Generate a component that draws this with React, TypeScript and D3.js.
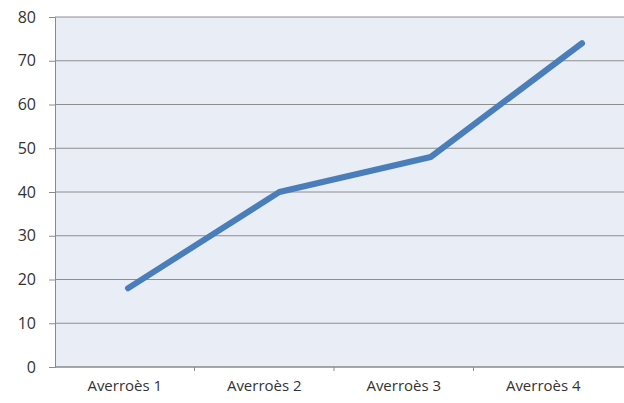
import React, { useRef, useEffect } from "react";
import * as d3 from "d3";

const categories = ["Averroès 1", "Averroès 2", "Averroès 3", "Averroès 4"];
const values = [18, 40, 48, 74];
const yTicks = [0, 10, 20, 30, 40, 50, 60, 70, 80];

const layout = {
  width: 624,
  height: 403,
  plotLeft: 55,
  plotRight: 624,
  plotTop: 17,
  plotBottom: 367,
  bandRight: 613,
  lineLeft: 128,
  lineRight: 582,
};

export default function App() {
  const ref = useRef<SVGSVGElement>(null);

  useEffect(() => {
    const svg = d3.select(ref.current);
    svg.selectAll("*").remove();

    const y = d3.scaleLinear().domain([0, 80]).range([layout.plotBottom, layout.plotTop]);
    const xBand = d3.scaleBand().domain(categories).range([layout.plotLeft, layout.bandRight]);
    // the drawn line sits a little wider than the category labels in the reference
    const xLine = d3.scalePoint().domain(categories).range([layout.lineLeft, layout.lineRight]);

    svg.append("rect")
      .attr("x", layout.plotLeft)
      .attr("y", layout.plotTop)
      .attr("width", layout.plotRight - layout.plotLeft)
      .attr("height", layout.plotBottom - layout.plotTop)
      .attr("fill", "#e9edf5");

    // gridlines
    svg.append("g")
      .selectAll("line")
      .data(yTicks.filter(t => t > 0))
      .join("line")
      .attr("x1", layout.plotLeft)
      .attr("x2", layout.plotRight)
      .attr("y1", d => y(d))
      .attr("y2", d => y(d))
      .attr("stroke", "#8e8e8e")
      .attr("stroke-width", 1);

    const yAxis = svg.append("g")
      .attr("transform", `translate(${layout.plotLeft},0)`)
      .call(d3.axisLeft(y).tickValues(yTicks).tickSize(6).tickPadding(13));
    yAxis.select(".domain").attr("stroke", "#8a8a8a");
    yAxis.selectAll(".tick line").attr("stroke", "#8a8a8a");
    yAxis.selectAll("text")
      .attr("font-family", "'Open Sans', sans-serif")
      .attr("font-size", 16)
      .attr("fill", "#333");

    const xAxis = svg.append("g")
      .attr("transform", `translate(0,${layout.plotBottom})`)
      .call(d3.axisBottom(xBand).tickSize(0).tickPadding(13));
    xAxis.select(".domain").remove();
    xAxis.selectAll("text")
      .attr("font-family", "'Open Sans', sans-serif")
      .attr("font-size", 15)
      .attr("fill", "#333");

    svg.append("line")
      .attr("x1", layout.plotLeft)
      .attr("x2", layout.plotRight)
      .attr("y1", layout.plotBottom)
      .attr("y2", layout.plotBottom)
      .attr("stroke", "#8a8a8a")
      .attr("stroke-width", 1.5);

    svg.append("g")
      .selectAll("line")
      .data(categories.slice(1))
      .join("line")
      .attr("x1", d => xBand(d)!)
      .attr("x2", d => xBand(d)!)
      .attr("y1", layout.plotBottom)
      .attr("y2", layout.plotBottom + 4)
      .attr("stroke", "#8a8a8a");

    const line = d3.line<number>()
      .x((d, i) => xLine(categories[i])!)
      .y(d => y(d));

    svg.append("path")
      .datum(values)
      .attr("d", line)
      .attr("fill", "none")
      .attr("stroke", "#4a7ebb")
      .attr("stroke-width", 6)
      .attr("stroke-linejoin", "round")
      .attr("stroke-linecap", "round");
  }, []);

  return (
    <svg
      ref={ref}
      width={layout.width}
      height={layout.height}
      style={{ position: "absolute", left: 0, top: 0, background: "#fff" }}
    />
  );
}
